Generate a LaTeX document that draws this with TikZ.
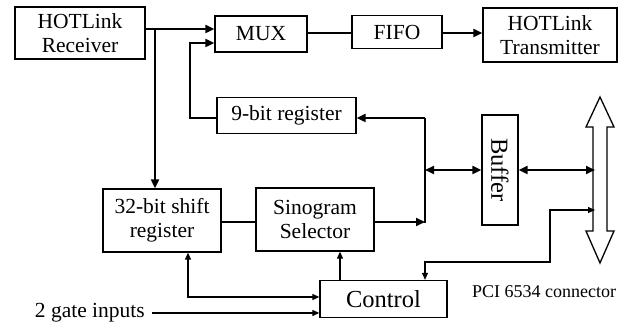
\documentclass[tikz,border=0pt]{standalone}
\usepackage{fontspec}
\setmainfont{Liberation Serif}
\usetikzlibrary{arrows.meta,calc}
\begin{document}
\begin{tikzpicture}[x=1pt,y=-1pt,
  blk/.style={draw,line width=1.3pt,inner sep=0pt,align=center,
    font=\fontsize{21.5}{24}\selectfont},
  dat/.style={line width=2pt},
  ctl/.style={line width=1.2pt},
  tip/.style={-{Triangle[length=9pt,width=8pt]}},
  tipb/.style={{Triangle[length=9pt,width=8pt]}-{Triangle[length=9pt,width=8pt]}},
  stip/.style={-{Triangle[length=7pt,width=6pt]}},
  stipb/.style={{Triangle[length=7pt,width=6pt]}-{Triangle[length=7pt,width=6pt]}}]
\useasboundingbox (0,0) rectangle (622,328);
% blocks
\node[blk,minimum width=130pt,minimum height=52pt] (recv) at (80,33) {HOTLink\\Receiver};
\node[blk,minimum width=92pt,minimum height=36pt] (mux) at (261,34) {MUX};
\node[blk,minimum width=90pt,minimum height=33pt] (fifo) at (397,32) {FIFO};
\node[blk,minimum width=134pt,minimum height=54pt] (trans) at (550,35) {HOTLink\\Transmitter};
\node[blk,minimum width=139pt,minimum height=36pt] (reg9) at (286.5,115.5) {9-bit register};
\node[blk,minimum width=118pt,minimum height=63pt] (shift) at (162,220.5) {32-bit shift\\register};
\node[blk,minimum width=118pt,minimum height=63pt] (sino) at (315,219.5) {Sinogram\\Selector};
\node[blk,minimum width=127pt,minimum height=37pt,font=\fontsize{24.5}{28}\selectfont] (ctrl) at (383.5,299) {Control};
\node[blk,minimum width=36pt,minimum height=110pt] (buf) at (500,170) {};
\node[rotate=-90,font=\fontsize{24.5}{28}\selectfont,inner sep=0pt] (buftext) at (buf.center) {Buffer};
\node[anchor=east,inner sep=0pt,font=\fontsize{21.5}{24}\selectfont] (gate) at (145,313) {2 gate inputs};
\node[inner sep=0pt,font=\fontsize{18}{21}\selectfont] (pci) at (544,292) {PCI 6534 connector};
% big double arrow (connector bus)
\draw[line width=1.3pt,line join=miter] (600,97) -- (614,127) -- (607,127) -- (607,231) -- (614,231) -- (600,263)
  -- (586,231) -- (593,231) -- (593,127) -- (586,127) -- cycle;
% coordinates
\coordinate (j1) at (155,29);
\coordinate (j2) at (190,43);
\coordinate (bt) at (425,118);
\coordinate (bb) at (425,222);
\coordinate (bm) at (425,170);
\coordinate (pr) at (595,170);
\coordinate (pc) at (595,210);
\coordinate (k1) at (550,262);
\coordinate (k2) at (188,297);
\coordinate (gs) at (152,313);
% data lines
\draw[dat,tip] (recv.east |- j1) -- (mux.west |- j1);
\draw[dat,tip] (j1) -- (j1 |- shift.north);
\draw[dat,tip] (reg9.west |- bt) -- (j2 |- bt) -- (j2) -- (mux.west |- j2);
\draw[dat] (mux.east |- 0,33) -- (fifo.west |- 0,33);
\draw[dat,tip] (fifo.east |- 0,33) -- (trans.west |- 0,33);
\draw[dat] (bt) -- ([yshift=-1pt]bb);
\draw[dat,tip] (bt) -- (reg9.east |- bt);
\draw[dat,tip] (sino.east |- bb) -- (bb);
\draw[dat,tipb] (bm) -- (buf.west |- bm);
\draw[dat,tipb] (buf.east |- pr) -- (pr);
\draw[dat] (shift.east |- bb) -- (sino.west |- bb);
% control lines
\draw[ctl,stipb] (425,0 |- ctrl.north) -- (425,262) -- (k1) -- (k1 |- pc) -- (pc);
\draw[ctl,stip] (340,0 |- ctrl.north) -- (340,0 |- sino.south);
\draw[ctl,stipb] (k2 |- shift.south) -- (k2) -- (ctrl.west |- k2);
\draw[ctl,stip] (gs) -- (ctrl.west |- gs);
\end{tikzpicture}
\end{document}
